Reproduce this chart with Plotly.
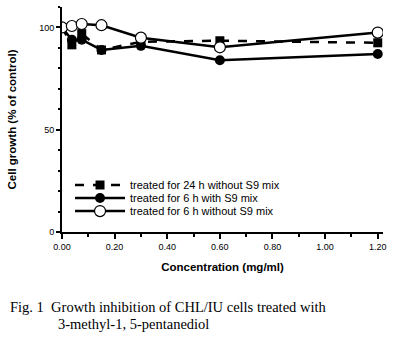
import plotly.graph_objects as go

conc = [0, 0.0375, 0.075, 0.15, 0.3, 0.6, 1.2]
s24_noS9 = [100, 91.5, 97, 89, 93, 93.5, 92.5]
s6_S9 = [100, 94, 94, 89, 91, 84, 87]
s6_noS9 = [100, 100.7, 101.7, 101.1, 95, 90.3, 97.5]
names = ["treated for 24 h without S9 mix", "treated for 6 h with S9 mix", "treated for 6 h without S9 mix"]

fig = go.Figure()
fig.add_trace(go.Scatter(x=conc, y=s24_noS9, name=names[0], mode="lines+markers", legend="legend",
                         line=dict(color="black", width=2.5, dash="dash"),
                         marker=dict(symbol="square", size=9, color="black")))
fig.add_trace(go.Scatter(x=conc, y=s6_S9, name=names[1], mode="lines+markers", legend="legend2",
                         line=dict(color="black", width=2.5),
                         marker=dict(symbol="circle", size=10, color="black")))
fig.add_trace(go.Scatter(x=conc, y=s6_noS9, name=names[2], mode="lines+markers", legend="legend3",
                         line=dict(color="black", width=2.5),
                         marker=dict(symbol="circle", size=11, color="white",
                                     line=dict(color="black", width=1.2))))

tickfont = dict(family="Liberation Sans", size=9, color="black")
legfont = dict(family="Liberation Sans", size=11, color="black")

def leg(y):
    return dict(x=0.025, y=y, xanchor="left", yanchor="middle", font=legfont,
                bgcolor="rgba(0,0,0,0)", itemwidth=50, borderwidth=0)

fig.update_layout(
    width=393, height=346,
    margin=dict(l=62, r=10, t=7, b=114),
    paper_bgcolor="white", plot_bgcolor="white",
    showlegend=True,
    legend=leg(0.209), legend2=leg(0.151), legend3=leg(0.093),
    xaxis=dict(range=[0, 1.22], tickvals=[0, 0.2, 0.4, 0.6, 0.8, 1.0, 1.2],
               ticktext=["0.00", "0.20", "0.40", "0.60", "0.80", "1.00", "1.20"],
               showline=True, linecolor="black", linewidth=2, showgrid=False, zeroline=False,
               ticks="outside", ticklen=5, tickwidth=2, tickcolor="black",
               minor=dict(tickvals=[0.1, 0.3, 0.5, 0.7, 0.9, 1.1], ticks="outside", ticklen=3,
                          tickwidth=2, tickcolor="black"),
               tickfont=tickfont,
               title=dict(text="<b>Concentration (mg/ml)</b>", standoff=12,
                          font=dict(family="Liberation Sans", size=11.5, color="black"))),
    yaxis=dict(range=[0, 110], tickvals=[0, 50, 100], ticktext=["0", "50", "100"],
               showline=True, linecolor="black", linewidth=2, showgrid=False, zeroline=False,
               ticks="outside", ticklen=4, tickwidth=2, tickcolor="black",
               minor=dict(tickvals=[10, 20, 30, 40, 60, 70, 80, 90, 110], ticks="outside",
                          ticklen=2, tickwidth=2, tickcolor="black"),
               tickfont=tickfont,
               title=dict(text="<b>Cell growth (% of control)</b>", standoff=20,
                          font=dict(family="Liberation Sans", size=11.5, color="black"))),
)

capfont = dict(family="Liberation Serif", size=14.5, color="black")
fig.add_annotation(xref="paper", yref="paper", x=-0.168, y=-0.333, xanchor="left", yanchor="middle",
                   text="Fig. 1  Growth inhibition of CHL/IU cells treated with",
                   showarrow=False, font=capfont)
fig.add_annotation(xref="paper", yref="paper", x=-0.018, y=-0.407, xanchor="left", yanchor="middle",
                   text="3-methyl-1, 5-pentanediol",
                   showarrow=False, font=capfont)

fig.write_html("out.html")
